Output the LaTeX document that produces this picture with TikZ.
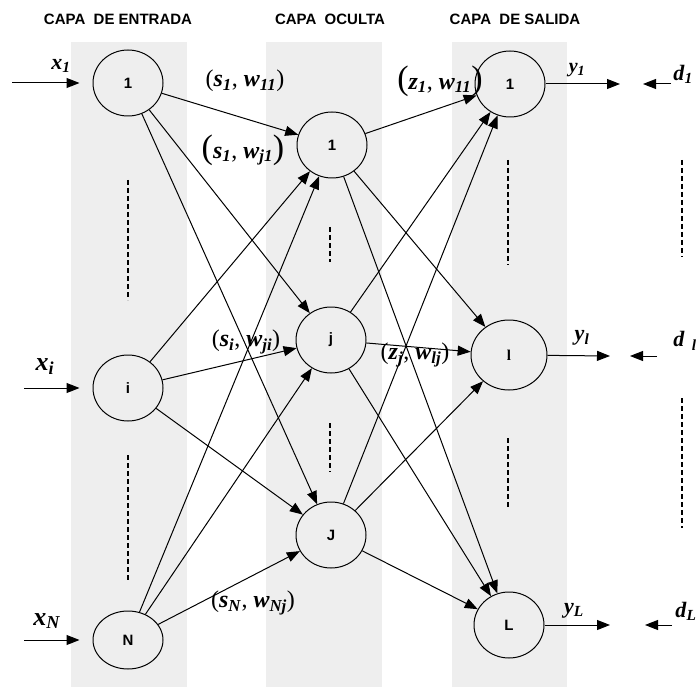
\documentclass[tikz,border=0pt]{standalone}
\usepackage{fontspec}
\setmainfont{Liberation Serif}
\setsansfont{Liberation Sans}
\usepackage{tikz}
\usetikzlibrary{
  shapes.geometric,
  arrows.meta
}
\definecolor{layershade}{HTML}{EEEEEE}
\tikzstyle{neuron} = [
  ellipse, draw=black, line width=1pt,
  minimum width=70pt, minimum height=66pt, inner sep=0pt,
  font=\sffamily\bfseries\fontsize{15}{15}\selectfont
]
\tikzstyle{layerbox} = [fill=layershade, draw=none]
\tikzstyle{layertitle} = [font=\sffamily\bfseries\fontsize{15}{15}\selectfont]
\tikzstyle{weightlabel} = [font=\fontsize{24}{24}\selectfont, inner sep=0pt]
\tikzstyle{iolabel} = [font=\fontsize{22}{22}\selectfont, inner sep=0pt]
\tikzstyle{arrowstyle} = [-{Triangle[length=13pt,width=10pt]}, line width=1pt]
\tikzstyle{dotsline} = [line width=1.8pt, dash pattern=on 5pt off 3pt]
\newcommand{\bi}[1]{\textbf{\textit{#1}}}
\newcommand{\bsub}[1]{\textsubscript{\bi{#1}}}
\newcommand{\bigparen}[1]{{\fontsize{34}{34}\selectfont #1}}

\begin{document}
\begin{tikzpicture}[x=1pt, y=-1pt]
\useasboundingbox (0,0) rectangle (696,687);

% --- Layer backgrounds ---
\fill[layerbox] (71,42) rectangle (187,687);
\fill[layerbox] (266,42) rectangle (382,687);
\fill[layerbox] (452,42) rectangle (567,687);

% --- Titles ---
\node[layertitle] (tin) at (118,19) {CAPA~ DE ENTRADA};
\node[layertitle] (thid) at (330,19) {CAPA~ OCULTA};
\node[layertitle] (tout) at (515,19) {CAPA~ DE SALIDA};

% --- Nodes ---
\node[neuron] (in1) at (128,83) {1};
\node[neuron] (ini) at (128,388) {i};
\node[neuron, minimum height=58pt] (inN) at (128,640) {N};
\node[neuron] (hid1) at (332,145) {1};
\node[neuron] (hidj) at (331,340) {j};
\node[neuron] (hidJ) at (331,535) {J};
\node[neuron] (out1) at (510,84) {1};
\node[neuron, minimum width=76pt, minimum height=70pt] (outl) at (509,355) {\rmfamily l};
\node[neuron] (outL) at (509,625) {L};

% --- Free ends ---
\coordinate (xin1) at (12,83);
\coordinate (xini) at (24,388);
\coordinate (xinN) at (24,640);
\coordinate (yout1) at (620,84);
\coordinate (youtl) at (610,356);
\coordinate (youtL) at (610,625);
\coordinate (dsrc1) at (671,84);
\coordinate (dtip1) at (643,84);
\coordinate (dsrcl) at (657,356);
\coordinate (dtipl) at (630,356);
\coordinate (dsrcL) at (672,625);
\coordinate (dtipL) at (645,625);

% --- Arrows ---
\draw[arrowstyle, shorten >=13pt] (xin1) -- (in1);
\draw[arrowstyle, shorten >=13pt] (xini) -- (ini);
\draw[arrowstyle, shorten >=13pt] (xinN) -- (inN);
\draw[arrowstyle] (in1) -- (hid1);
\draw[arrowstyle] (in1) -- (hidj);
\draw[arrowstyle] (in1) -- (hidJ);
\draw[arrowstyle] (ini) -- (hid1);
\draw[arrowstyle] (ini) -- (hidj);
\draw[arrowstyle] (ini) -- (hidJ);
\draw[arrowstyle] (inN) -- (hid1);
\draw[arrowstyle] (inN) -- (hidj);
\draw[arrowstyle] (inN) -- (hidJ);
\draw[arrowstyle] (hid1) -- (out1);
\draw[arrowstyle] (hid1) -- (outl);
\draw[arrowstyle] (hid1) -- (outL);
\draw[arrowstyle] (hidj) -- (out1);
\draw[arrowstyle] (hidj) -- (outl);
\draw[arrowstyle] (hidj) -- (outL);
\draw[arrowstyle] (hidJ) -- (out1);
\draw[arrowstyle] (hidJ) -- (outl);
\draw[arrowstyle] (hidJ) -- (outL);
\draw[arrowstyle] (out1) -- (yout1);
\draw[arrowstyle] (outl) -- (youtl);
\draw[arrowstyle] (outL) -- (youtL);
\draw[arrowstyle] (dsrc1) -- (dtip1);
\draw[arrowstyle] (dsrcl) -- (dtipl);
\draw[arrowstyle] (dsrcL) -- (dtipL);

% --- Continuation dashes ---
\draw[dotsline] (128,180) -- (128,300);
\draw[dotsline] (128,455) -- (128,582);
\draw[dotsline] (330,227) -- (330,262);
\draw[dotsline] (330,423) -- (330,472);
\draw[dotsline] (508,160) -- (508,265);
\draw[dotsline] (508,438) -- (508,507);
\draw[dotsline] (682,160) -- (682,257);
\draw[dotsline] (682,398) -- (682,528);

% --- Signal labels ---
\node[iolabel] (lx1) at (61,66) {\bi{x}\bsub{1}};
\node[iolabel, font=\fontsize{26}{26}\selectfont] (lxi) at (45,367) {\bi{x}\bsub{i}};
\node[iolabel, font=\fontsize{26}{26}\selectfont] (lxN) at (47,621) {\bi{x}\bsub{N}};
\node[iolabel, font=\fontsize{20}{20}\selectfont] (ly1) at (577,70) {\bi{y}\bsub{1}};
\node[iolabel] (lyl) at (582,338) {\bi{y}\bsub{l}};
\node[iolabel] (lyL) at (574,611) {\bi{y}\bsub{L}};
\node[iolabel] (ld1) at (683,74) {\bi{d}\bsub{1}};
\node[iolabel] (ldl) at (685,341) {\bi{d}\hspace{7pt}\bsub{l}};
\node[iolabel] (ldL) at (686,611) {\bi{d}\bsub{L}};

% --- Weight labels ---
\node[weightlabel] (ws11) at (245,81) {(\bi{s}\bsub{1}, \bi{w}\bsub{11})};
\node[weightlabel] (wsj1) at (243,150) {\bigparen{(}\bi{s}\bsub{1}, \bi{w}\bsub{j1}\bigparen{)}};
\node[weightlabel] (wz11) at (440,81) {\bigparen{(}\bi{z}\bsub{1}, \bi{w}\bsub{11}\bigparen{)}};
\node[weightlabel] (wsji) at (246,342) {(\bi{s}\bsub{i}, \bi{w}\bsub{ji})};
\node[weightlabel] (wzlj) at (415,355) {(\bi{z}\bsub{j}, \bi{w}\bsub{lj})};
\node[weightlabel] (wsNj) at (253,603) {(\bi{s}\bsub{N}, \bi{w}\bsub{Nj})};

\end{tikzpicture}
\end{document}
